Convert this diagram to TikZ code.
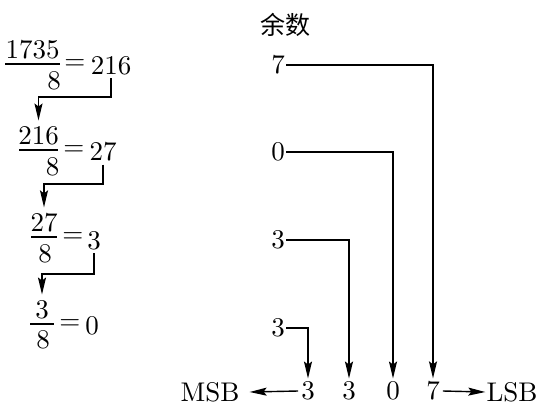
\documentclass[tikz,border=0pt]{standalone}
\usepackage{fontspec}
\setmainfont{lmroman10-regular.otf}
\newfontfamily\cjk{Noto Sans CJK SC}
\usetikzlibrary{arrows.meta}
\begin{document}
\begin{tikzpicture}[x=1pt,y=-1pt,
  txt/.style={font=\fontsize{27}{32}\selectfont, inner sep=0pt},
  num/.style={txt, inner xsep=0pt, inner ysep=6pt},
  res/.style={txt, inner xsep=0pt, inner ysep=3pt},
  dig/.style={txt, inner sep=1.5pt},
  bot/.style={txt, inner sep=3pt},
  bar/.style={line width=1.1pt},
  conn/.style={line width=1.4pt, -{Stealth[length=17pt,width=8pt,inset=3pt]}},
]
\useasboundingbox (0,0) rectangle (543,408);

% left: successive divisions  (bar y: 64, 150, 237, 324)
\node[num] (n1) at (32.5,50) {1735};
\draw[bar] (5,64) -- (60,64);
\node[txt] (d1) at (54,81) {8};
\node[txt] (e1) at (75,65) {=};
\node[res] (q1) at (111,66) {216};

\node[num] (n2) at (38.5,136) {216};
\draw[bar] (19,150) -- (58,150);
\node[txt] (d2) at (52.5,167) {8};
\node[txt] (e2) at (74,151) {=};
\node[res] (q2) at (103,152) {27};

\node[num] (n3) at (44,223) {27};
\draw[bar] (31,237) -- (57,237);
\node[txt] (d3) at (45,254) {8};
\node[txt] (e3) at (73,238) {=};
\node[res] (q3) at (94,241) {3};

\node[num] (n4) at (42,310) {3};
\draw[bar] (30,324) -- (54,324);
\node[txt] (d4) at (43,340) {8};
\node[txt] (e4) at (70,325) {=};
\node[res] (q4) at (92,326) {0};

\draw[conn] (q1.south) -- (q1.south |- 0,97) -| (n2.north);
\draw[conn] (q2.south) -- (q2.south |- 0,184) -| (n3.north);
\draw[conn] (q3.south) -- (q3.south |- 0,274) -| (n4.north);

% right: remainders
\node[font=\cjk\fontsize{25}{30}\selectfont, inner sep=0pt] (hd) at (285,25) {余数};
\node[dig] (r7) at (278,65) {7};
\node[dig] (r0) at (278,152) {0};
\node[dig] (r3a) at (278,240) {3};
\node[dig] (r3b) at (278,328) {3};

\node[bot] (b3) at (308,391) {3};
\node[bot] (b3x) at (349,391) {3};
\node[bot] (b0) at (393,391) {0};
\node[bot] (b7) at (433,391) {7};
\node[txt, inner xsep=10pt] (msb) at (210,392) {MSB};
\node[txt, inner xsep=1pt] (lsb) at (512,392) {LSB};

\draw[conn] (r7.east) -| (b7.north);
\draw[conn] (r0.east) -| (b0.north);
\draw[conn] (r3a.east) -| (b3x.north);
\draw[conn] (r3b.east) -| (b3.north);

\draw[conn] (b3.west) -- (msb.east);
\draw[conn] (b7.east) -- (lsb.west);
\end{tikzpicture}
\end{document}
